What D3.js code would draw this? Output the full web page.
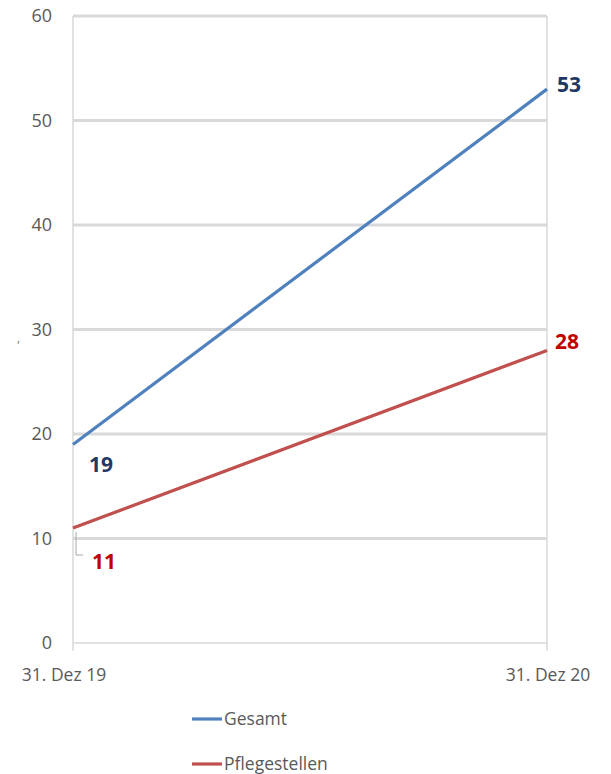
<!DOCTYPE html>
<html>
<head>
<meta charset="utf-8">
<title>Gesamt / Pflegestellen</title>
<script src="https://d3js.org/d3.v7.min.js"></script>
<style>
  body { margin: 0; background: #fff; }
  text { font-family: "Open Sans", sans-serif; }
</style>
</head>
<body>
<div id="chart"></div>
<script>
// data
var dates = ["31. Dez 19", "31. Dez 20"];
var gesamt = [19, 53];
var pflegestellen = [11, 28];
var yTicks = [0, 10, 20, 30, 40, 50, 60];
var seriesNames = ["Gesamt", "Pflegestellen"];

var width = 611, height = 774;
var margin = { top: 16, left: 73, right: 64, bottom: 131 };

var svg = d3.select("#chart").append("svg")
    .attr("width", width)
    .attr("height", height);

var x = d3.scalePoint()
    .domain(dates)
    .range([margin.left, width - margin.right]);

var y = d3.scaleLinear()
    .domain([0, 60])
    .range([height - margin.bottom, margin.top]);

// horizontal grid
svg.append("g")
    .selectAll("line")
    .data(yTicks)
    .enter().append("line")
    .attr("x1", margin.left)
    .attr("x2", width - margin.right)
    .attr("y1", function(d){ return y(d); })
    .attr("y2", function(d){ return y(d); })
    .attr("stroke", "#d9d9d9")
    .attr("stroke-width", function(d){ return d === 0 ? 1.5 : 3; });

// vertical lines at the two dates
svg.append("g")
    .selectAll("line")
    .data(dates)
    .enter().append("line")
    .attr("x1", function(d){ return x(d); })
    .attr("x2", function(d){ return x(d); })
    .attr("y1", y(60))
    .attr("y2", y(0) + 8)
    .attr("stroke", "#d9d9d9")
    .attr("stroke-width", 1.5);

// y tick labels
svg.append("g")
    .selectAll("text")
    .data(yTicks)
    .enter().append("text")
    .attr("x", 52)
    .attr("y", function(d){ return y(d) + 6; })
    .attr("text-anchor", "end")
    .attr("fill", "#595959")
    .attr("font-size", 18)
    .text(function(d){ return d; });

// x tick labels
svg.append("g")
    .selectAll("text")
    .data(dates)
    .enter().append("text")
    .attr("x", function(d, i){ return i === 0 ? x(d) - 9 : x(d) + 1; })
    .attr("y", 681)
    .attr("text-anchor", "middle")
    .attr("fill", "#595959")
    .attr("font-size", 17.5)
    .text(function(d){ return d; });

// stray axis title fragment
svg.append("text")
    .attr("x", 17)
    .attr("y", 342)
    .attr("fill", "#7f7f7f")
    .attr("font-size", 12)
    .text(",");

var line = d3.line()
    .x(function(d, i){ return x(dates[i]); })
    .y(function(d){ return y(d); });

var colors = ["#4f81bd", "#c0504d"];
var labelColors = ["#1f3864", "#c00000"];
var series = [gesamt, pflegestellen];

svg.append("g")
    .selectAll("path")
    .data(series)
    .enter().append("path")
    .attr("d", line)
    .attr("fill", "none")
    .attr("stroke", function(d, i){ return colors[i]; })
    .attr("stroke-width", 3.2);

// leader line for the 11 label
svg.append("path")
    .attr("d", "M" + (x(dates[0]) + 3) + "," + (y(pflegestellen[0]) + 4) +
               "V" + (y(pflegestellen[0]) + 27) + "h7")
    .attr("fill", "none")
    .attr("stroke", "#a6a6a6")
    .attr("stroke-width", 1);

// data labels
var labelPos = [
  [[89, 472], [557, 92]],
  [[92, 569], [555, 349]]
];
series.forEach(function(s, si){
  s.forEach(function(v, vi){
    svg.append("text")
      .attr("x", labelPos[si][vi][0])
      .attr("y", labelPos[si][vi][1])
      .attr("fill", labelColors[si])
      .attr("font-size", 21)
      .attr("font-weight", "bold")
      .text(v);
  });
});

// legend
var legend = svg.append("g");
seriesNames.forEach(function(n, i){
  var ly = 719 + i * 45;
  legend.append("line")
    .attr("x1", 192).attr("x2", 222)
    .attr("y1", ly).attr("y2", ly)
    .attr("stroke", colors[i])
    .attr("stroke-width", 3.2);
  legend.append("text")
    .attr("x", 224)
    .attr("y", ly + 6)
    .attr("fill", "#595959")
    .attr("font-size", 17.5)
    .text(n);
});
</script>
</body>
</html>
